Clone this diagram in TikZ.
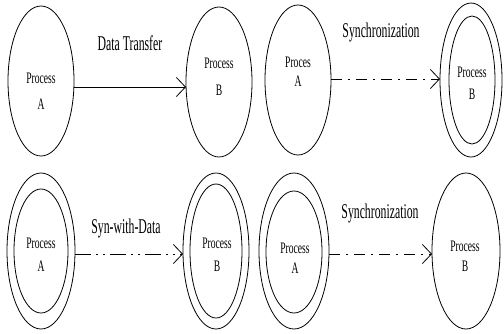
\documentclass[tikz,border=0pt]{standalone}
\usepackage{fontspec}
\usetikzlibrary{shapes.geometric,arrows.meta}
\newfontfamily\lblfont[FakeStretch=0.56]{Liberation Serif}
\newfontfamily\procfont[FakeStretch=0.6]{Liberation Serif}
\tikzset{
  proc/.style={ellipse, draw, line width=0.8pt, inner sep=0pt, outer sep=0pt},
  ptext/.style={anchor=base, inner sep=0pt, font=\procfont\fontsize{16}{19}\selectfont},
  ltext/.style={anchor=base, inner sep=0pt, font=\lblfont\fontsize{21}{25}\selectfont},
  link/.style={line width=0.8pt, -{Straight Barb[length=9pt, width=19pt, line width=0.8pt]}},
  syncline/.style={link, dash pattern=on 11pt off 6pt on 2pt off 6pt},
  syndline/.style={link, dash pattern=on 16pt off 5pt on 2pt off 5pt on 2pt off 5pt},
}
\begin{document}
\begin{tikzpicture}[x=1pt, y=-1pt]
\useasboundingbox (0,0) rectangle (504,333);

% ---- top row ----
\node[proc, minimum width=66pt, minimum height=150pt] (E1) at (41,81) {};
\node[ptext] (E1a) at (41,83) {Process};
\node[ptext] (E1b) at (41,109) {A};

\node[proc, minimum width=66pt, minimum height=150pt] (E2) at (219,82) {};
\node[ptext] (E2a) at (219,68) {Process};
\node[ptext] (E2b) at (219,95) {B};

\draw[link] ([yshift=-6pt]E1.east) -- ([yshift=-5pt]E2.west);
\node[ltext] (L1) at (130,50) {Data Transfer};

\node[proc, minimum width=66pt, minimum height=150pt] (E3) at (298,80) {};
\node[ptext] (E3a) at (298,67) {Proces};
\node[ptext] (E3b) at (298,86) {A};

\node[proc, minimum width=62pt, minimum height=154pt] (E4) at (471,80) {};
\node[proc, minimum width=46pt, minimum height=128pt] (E4i) at (472,80) {};
\node[ptext] (E4a) at (472,77) {Process};
\node[ptext] (E4b) at (472,99) {B};

\draw[syncline] ([yshift=1pt]E3.east) -- ([yshift=1pt]E4.west);
\node[ltext] (L2) at (381,37) {Synchronization};

% ---- bottom row ----
\node[proc, minimum width=68pt, minimum height=156pt] (E5) at (41,251) {};
\node[proc, minimum width=54pt, minimum height=124pt] (E5i) at (41,251) {};
\node[ptext] (E5a) at (41,248) {Process};
\node[ptext] (E5b) at (41,271) {A};

\node[proc, minimum width=66pt, minimum height=156pt] (E6) at (216,251) {};
\node[proc, minimum width=52pt, minimum height=134pt] (E6i) at (216,251) {};
\node[ptext] (E6a) at (217,248) {Process};
\node[ptext] (E6b) at (217,271) {B};

\draw[syndline] ([yshift=-3pt]E5.east) -- ([yshift=-3pt]E6.west);
\node[ltext] (L3) at (126,233) {Syn-with-Data};

\node[proc, minimum width=70pt, minimum height=156pt] (E7) at (294,251) {};
\node[proc, minimum width=56pt, minimum height=122pt] (E7i) at (294,252) {};
\node[ptext] (E7a) at (295,253) {Process};
\node[ptext] (E7b) at (295,273) {A};

\node[proc, minimum width=68pt, minimum height=156pt] (E8) at (466,251) {};
\node[ptext] (E8a) at (465,251) {Process};
\node[ptext] (E8b) at (465,271) {B};

\draw[syncline] ([yshift=-3pt]E7.east) -- ([yshift=-3pt]E8.west);
\node[ltext] (L4) at (380,218) {Synchronization};
\end{tikzpicture}
\end{document}
